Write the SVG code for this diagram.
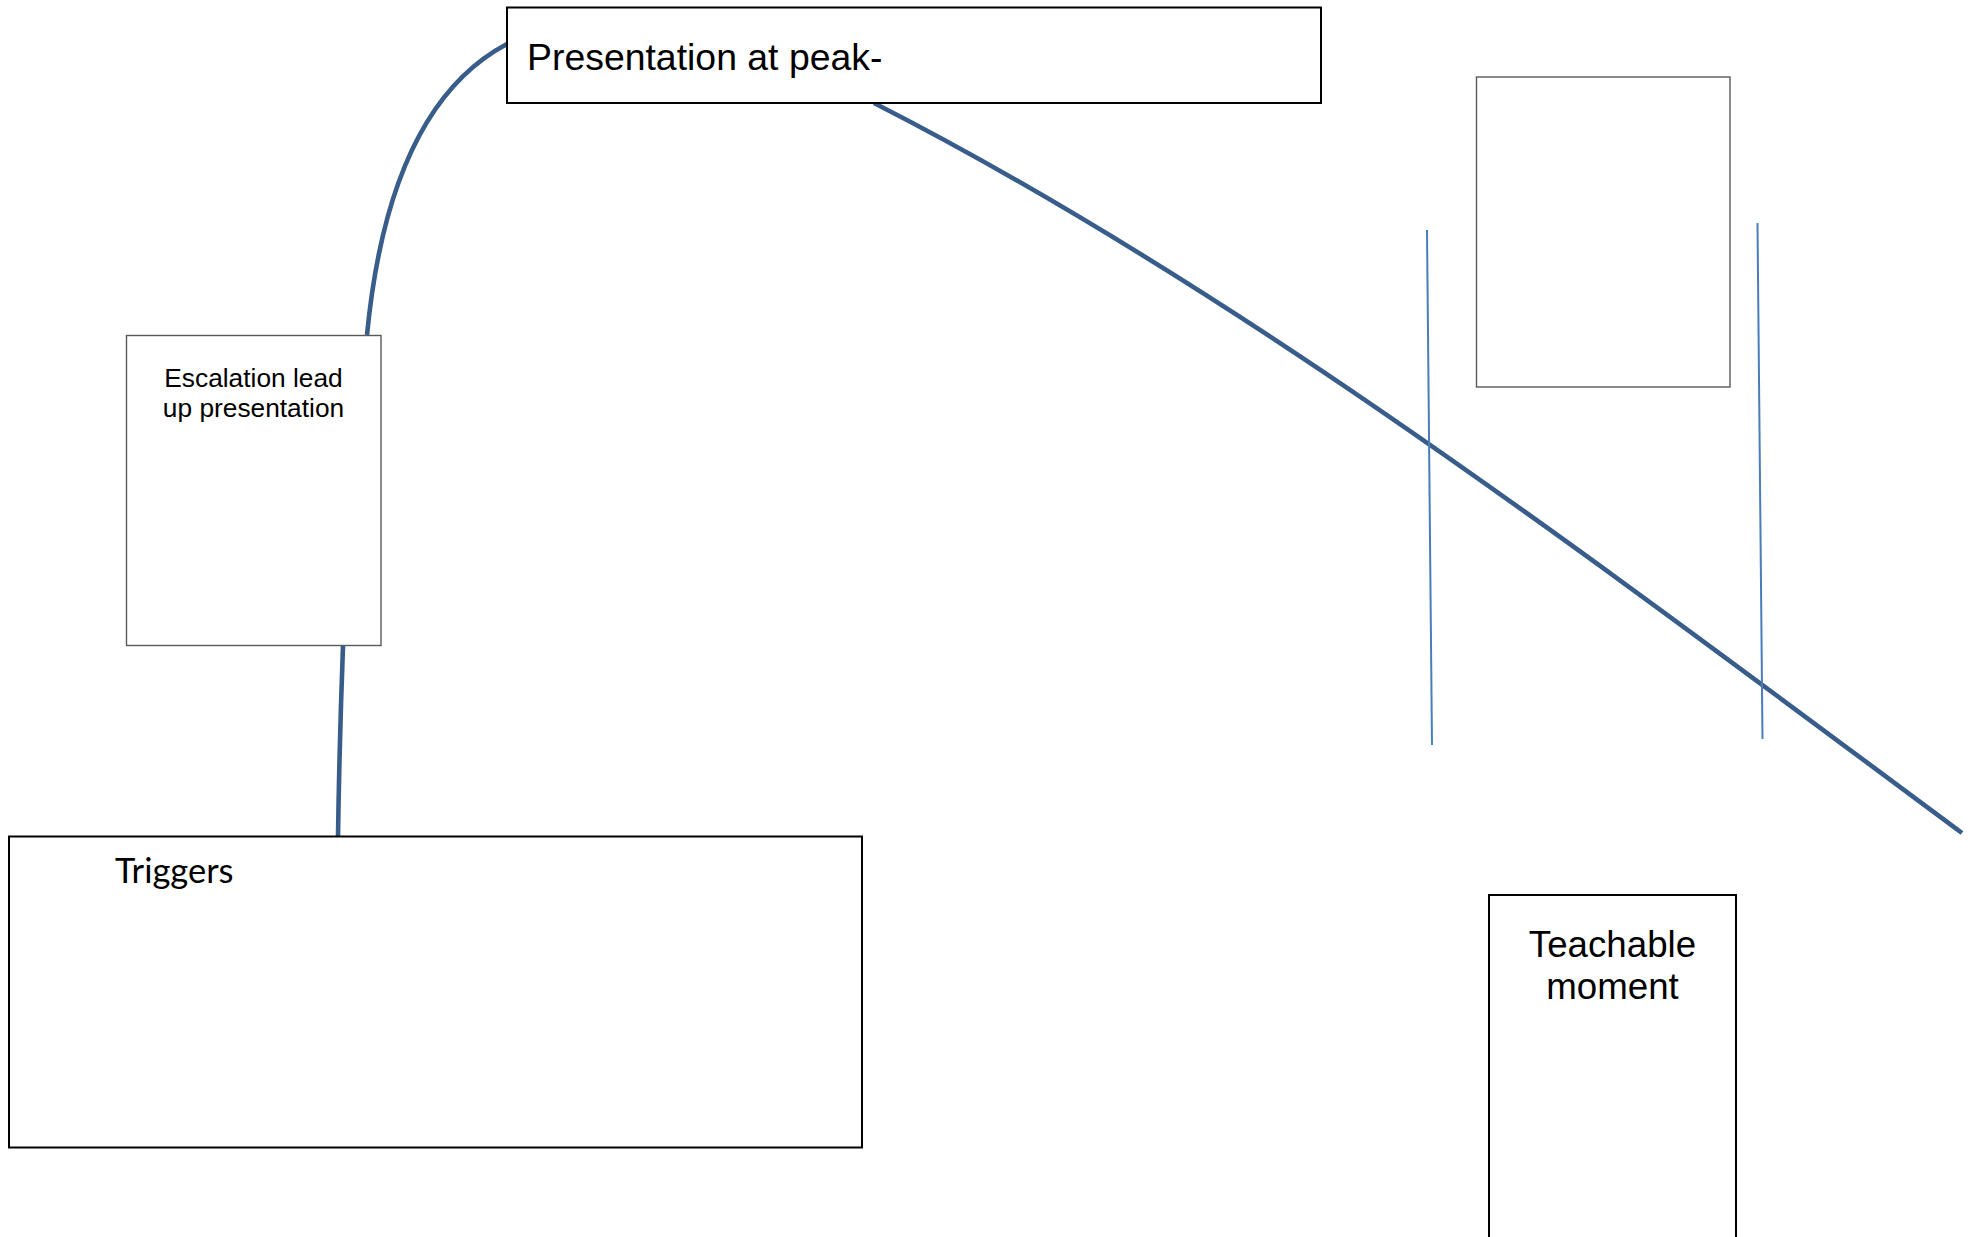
<svg xmlns="http://www.w3.org/2000/svg" width="1977" height="1237" viewBox="0 0 1977 1237">
<style>
.bg{fill:#ffffff}
.box{fill:#ffffff;stroke:#000000;stroke-width:2}
.thin{fill:#ffffff;stroke:#595959;stroke-width:1.4}
.curve{fill:none;stroke:#385D8A;stroke-width:4.6;stroke-linecap:butt}
.guide{fill:none;stroke:#4A7EBB;stroke-width:2}
.arial{font-family:"Liberation Sans",Arial,sans-serif;fill:#000000}
.calibri{font-family:Lato,"Open Sans",sans-serif;fill:#000000}
</style>
<rect class="bg" x="0" y="0" width="1977" height="1237"/>
<g id="connectors">
  <path class="curve" d="M367,335 C380,200 420,90 507,44"/>
  <path class="curve" d="M343,646 C341,700 339,770 338,836"/>
  <path class="curve" d="M874,103 C1237,288 1599,564 1962,833"/>
  <line class="guide" x1="1427" y1="230" x2="1432" y2="745"/>
  <line class="guide" x1="1757.5" y1="223" x2="1762.5" y2="739"/>
</g>
<g id="node-peak">
  <rect class="box" x="507" y="7.5" width="814" height="95.5"/>
  <text class="arial" x="527" y="70" font-size="37.4">Presentation at peak-</text>
</g>
<g id="node-escalation">
  <rect class="thin" x="126.5" y="335.5" width="254.5" height="310"/>
  <text class="arial" x="253.5" y="387" font-size="26.3" text-anchor="middle">Escalation lead</text>
  <text class="arial" x="253.5" y="417" font-size="26.3" text-anchor="middle">up presentation</text>
</g>
<g id="node-triggers">
  <rect class="box" x="9" y="836.5" width="853" height="311"/>
  <text class="calibri" x="115" y="883" font-size="34.5">Triggers</text>
</g>
<g id="node-blank">
  <rect class="thin" x="1476.5" y="77" width="253.5" height="310"/>
</g>
<g id="node-teachable">
  <rect class="box" x="1489" y="895" width="247" height="360"/>
  <text class="arial" x="1612.5" y="957" font-size="36.7" text-anchor="middle">Teachable</text>
  <text class="arial" x="1612.5" y="999" font-size="36.7" text-anchor="middle">moment</text>
</g>
</svg>
